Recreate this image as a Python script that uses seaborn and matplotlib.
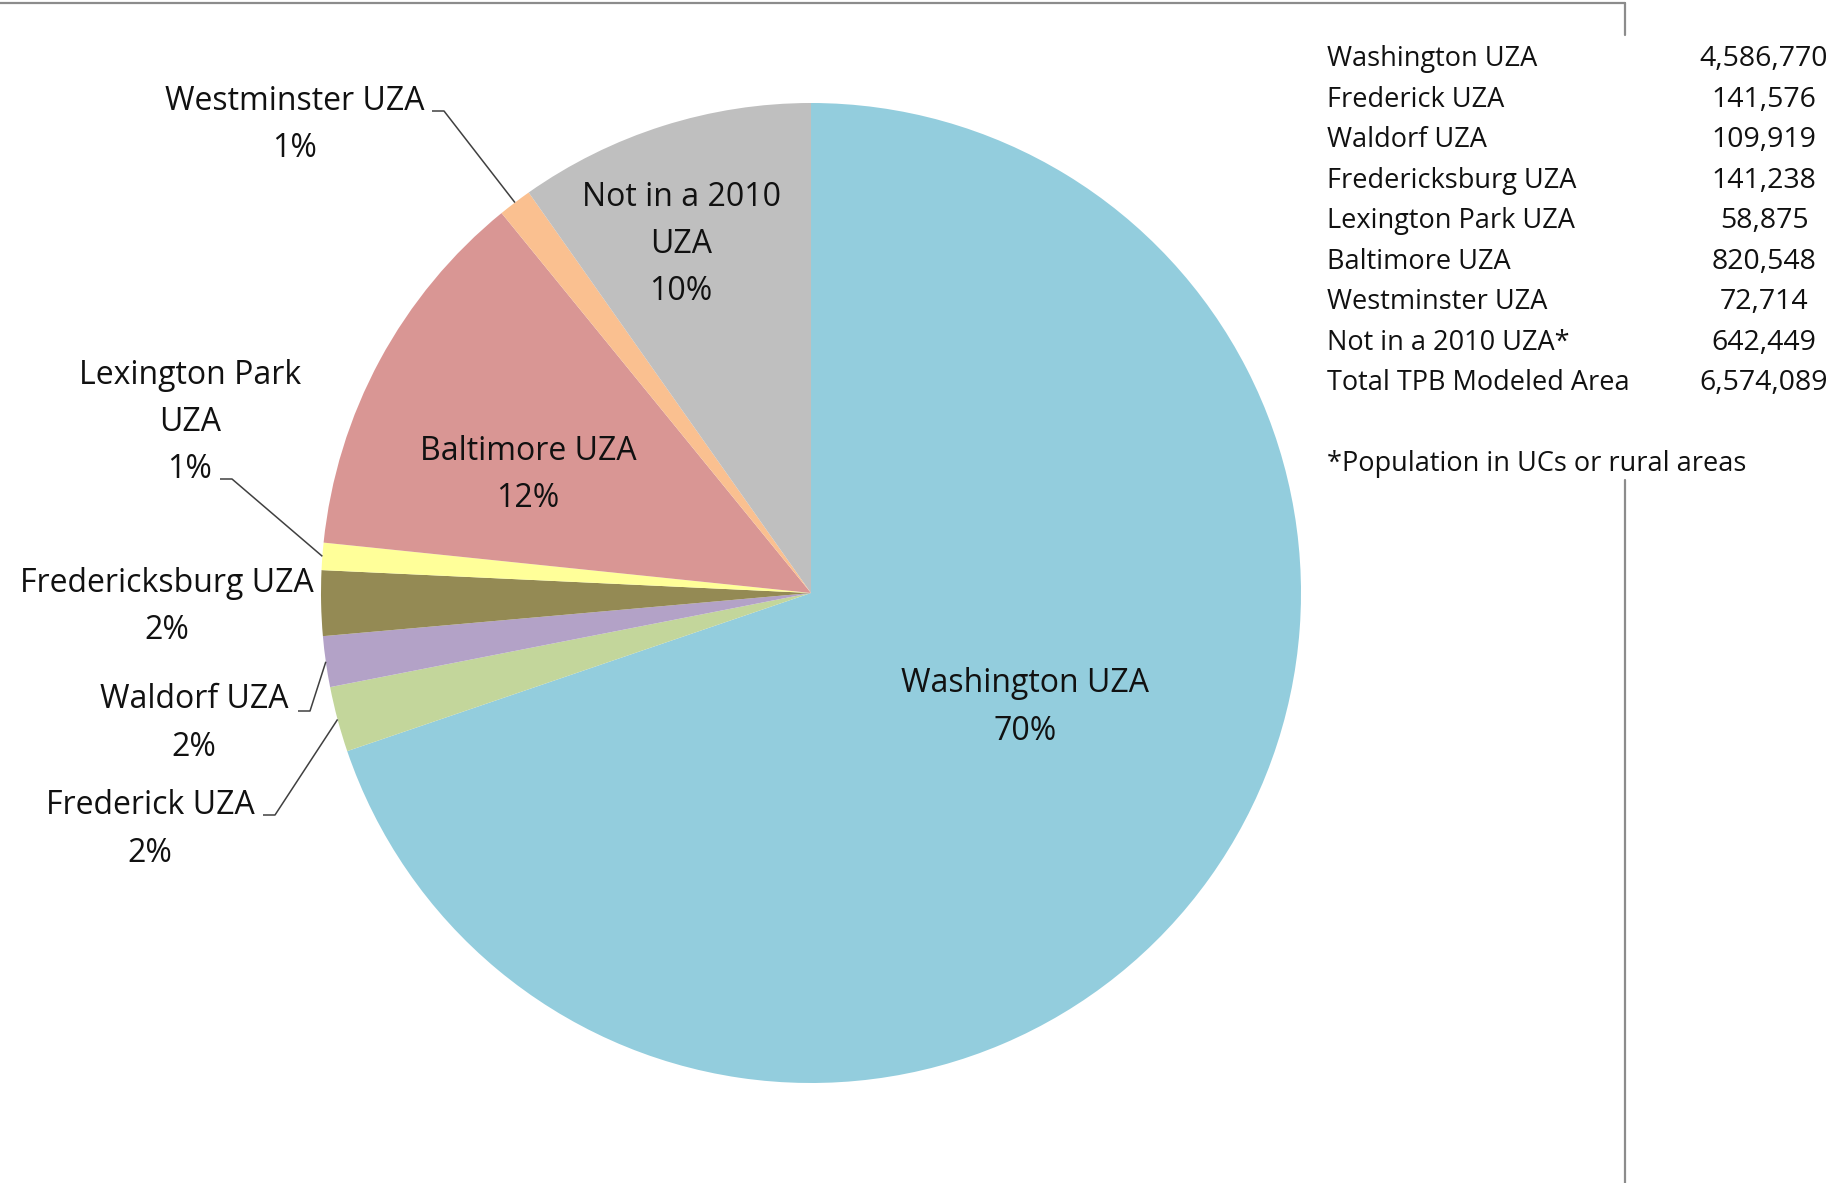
import numpy as np
import matplotlib
matplotlib.use("Agg")
import matplotlib.pyplot as plt
import seaborn as sns

# Data
regions = ["Washington UZA", "Frederick UZA", "Waldorf UZA", "Fredericksburg UZA",
           "Lexington Park UZA", "Baltimore UZA", "Westminster UZA", "Not in a 2010 UZA"]
population = [4586770, 141576, 109919, 141238, 58875, 820548, 72714, 642449]
slice_colors = ["#93CDDD", "#C3D69B", "#B3A2C7", "#948A54",
                "#FFFF99", "#D99694", "#FAC090", "#BFBFBF"]
# how each pie label is broken over lines
pie_label_lines = [["Washington UZA"], ["Frederick UZA"], ["Waldorf UZA"], ["Fredericksburg UZA"],
                   ["Lexington Park", "UZA"], ["Baltimore UZA"], ["Westminster UZA"],
                   ["Not in a 2010", "UZA"]]
table_names = ["Washington UZA", "Frederick UZA", "Waldorf UZA", "Fredericksburg UZA",
               "Lexington Park UZA", "Baltimore UZA", "Westminster UZA", "Not in a 2010 UZA*"]
total_name = "Total TPB Modeled Area"
footnote = "*Population in UCs or rural areas"

sns.set_theme(style="white")
plt.rcParams["font.family"] = ["Open Sans", "DejaVu Sans"]

W, H = 1832, 1183
fig = plt.figure(figsize=(W / 100, H / 100), dpi=100)
ax = fig.add_axes([0, 0, 1, 1])

def Y(y):
    return H - y

cx, cy, rad = 811, Y(593), 490
wedges, _ = ax.pie(population, colors=slice_colors, startangle=90, counterclock=False,
                   center=(cx, cy), radius=rad, wedgeprops=dict(linewidth=0))
ax.set_xlim(0, W)
ax.set_ylim(0, H)
ax.set_aspect("equal")
ax.axis("off")

total = sum(population)
pcts = [f"{round(100 * v / total)}%" for v in population]

txt = "#111111"
fs = 23
line_h = 47

# label layout: (center x, first line y, leader start x,y or None)
layout = {
    0: (1025, 684, None),
    1: (150, 806, (263, 815)),
    2: (194, 700, (298, 711)),
    3: (167, 583, None),
    4: (190, 375, (220, 479)),
    5: (528, 451, None),
    6: (295, 101, (432, 111)),
    7: (681, 197, None),
}

for i, w in enumerate(wedges):
    x, y0, lead = layout[i]
    lines = pie_label_lines[i] + [pcts[i]]
    for k, s in enumerate(lines):
        ax.text(x, Y(y0 + k * line_h), s, ha="center", va="center", fontsize=fs, color=txt)
    if lead is not None:
        mid = np.deg2rad((w.theta1 + w.theta2) / 2)
        ex, ey = cx + rad * np.cos(mid), cy + rad * np.sin(mid)
        sx, sy = lead
        ax.plot([sx, sx + 12, ex], [Y(sy), Y(sy), ey], color="#404040", lw=1.1,
                solid_capstyle="butt")

# side table
tfs = 19.5
row_y0, row_h = 59, 40.5
for i, name in enumerate(table_names + [total_name]):
    val = population[i] if i < len(population) else total
    ax.text(1327, Y(row_y0 + i * row_h), name, ha="left", va="center", fontsize=tfs, color=txt)
    ax.text(1764, Y(row_y0 + i * row_h), f"{val:,}", ha="center", va="center",
            fontsize=tfs + 1, color=txt)
ax.text(1327, Y(464), footnote, ha="left", va="center", fontsize=tfs, color=txt)

# chart frame (partially hidden by the table)
frame = "#8C8C8C"
ax.plot([0, 1625], [Y(2.5), Y(2.5)], color=frame, lw=1.6)
ax.plot([1625, 1625], [Y(2.5), Y(35)], color=frame, lw=1.6)
ax.plot([1625, 1625], [Y(480), 0], color=frame, lw=1.6)

fig.savefig("out.png", dpi=100)
